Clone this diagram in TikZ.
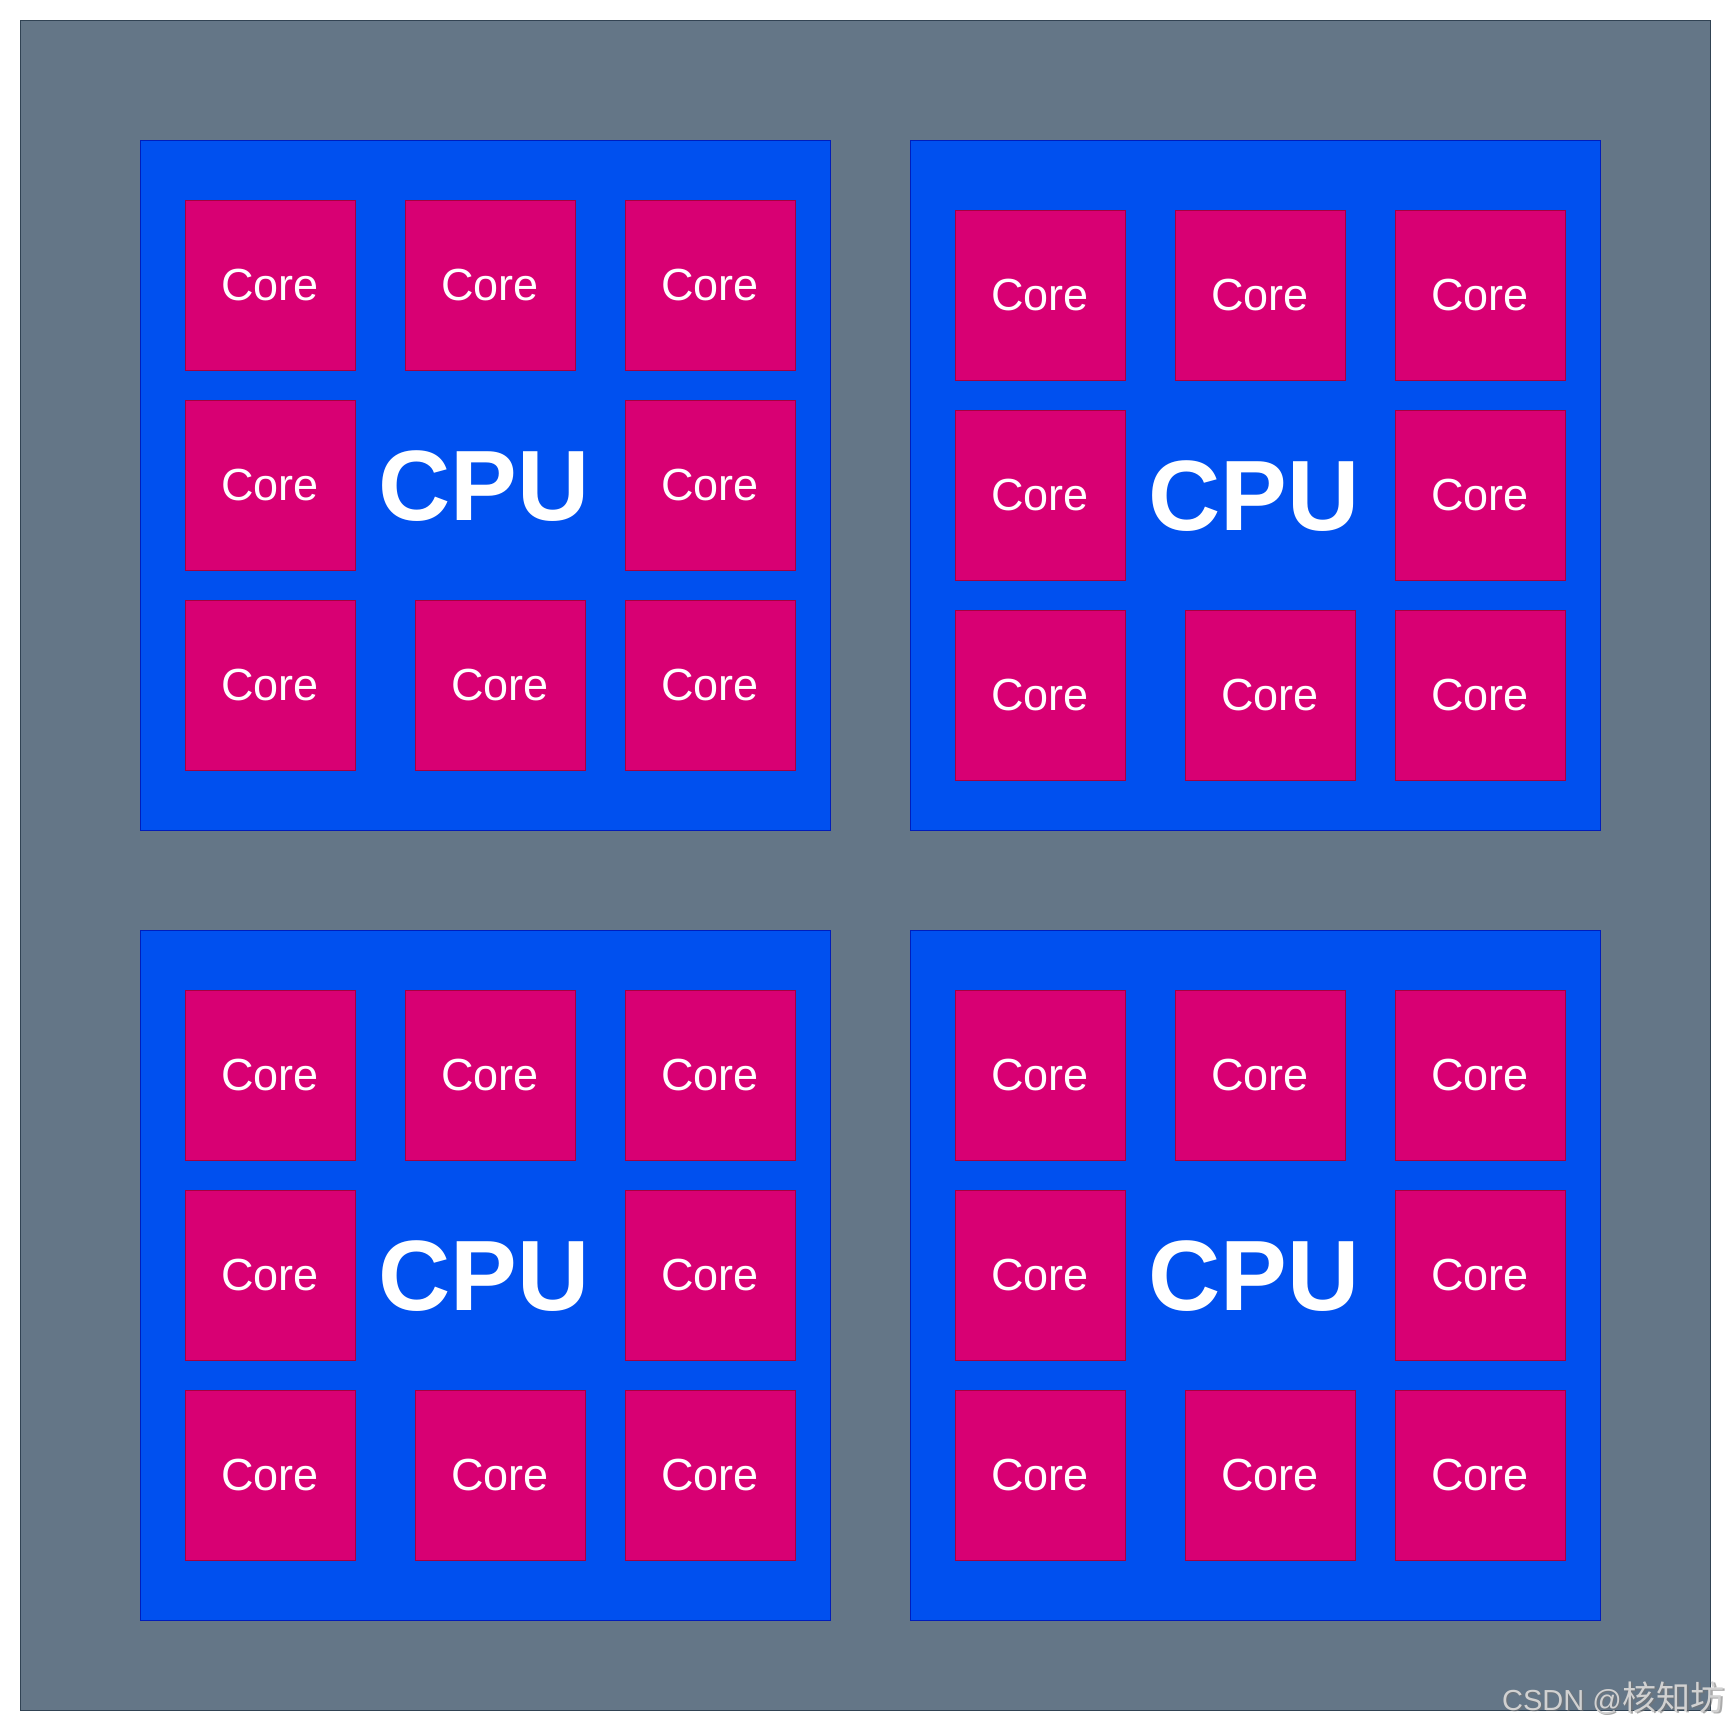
\documentclass[tikz,border=0pt]{standalone}
\usepackage{fontspec}
\setmainfont{Liberation Sans}
\newfontfamily\cjkfont{Noto Sans CJK SC}
\definecolor{bgfill}{HTML}{647687}
\definecolor{bgline}{HTML}{314354}
\definecolor{cpufill}{HTML}{0050EF}
\definecolor{cpuline}{HTML}{001DBC}
\definecolor{corefill}{HTML}{D80073}
\definecolor{coreline}{HTML}{A50040}
\begin{document}
\begin{tikzpicture}[x=1pt,y=-1pt,
  board/.style={fill=bgfill,draw=bgline,line width=1pt},
  cpubox/.style={fill=cpufill,draw=cpuline,line width=1pt},
  corebox/.style={fill=corefill,draw=coreline,line width=1pt,minimum width=170pt,minimum height=170pt,inner sep=0pt,text=white,font=\fontsize{45}{54}\selectfont},
  cpulabel/.style={inner sep=0pt,text=white,font=\fontsize{100}{120}\selectfont\bfseries}]
\useasboundingbox (0,0) rectangle (1732,1732);
\fill[white] (0,0) rectangle (1732,1732);
\draw[board] (20,20) rectangle (1710,1710);
\foreach \ox/\oy/\dy/\n in {140/140/0/a,910/140/10/b,140/930/0/c,910/930/0/d}{
  \draw[cpubox] (\ox,\oy) rectangle ++(690,690);
  \node[cpulabel] (cpu-\n) at (\ox+344,\oy+346+\dy) {CPU};
  \node[corebox] (core-\n-1) at (\ox+130,\oy+145+\dy) {Core};
  \node[corebox] (core-\n-2) at (\ox+350,\oy+145+\dy) {Core};
  \node[corebox] (core-\n-3) at (\ox+570,\oy+145+\dy) {Core};
  \node[corebox] (core-\n-4) at (\ox+130,\oy+345+\dy) {Core};
  \node[corebox] (core-\n-5) at (\ox+570,\oy+345+\dy) {Core};
  \node[corebox] (core-\n-6) at (\ox+130,\oy+545+\dy) {Core};
  \node[corebox] (core-\n-7) at (\ox+360,\oy+545+\dy) {Core};
  \node[corebox] (core-\n-8) at (\ox+570,\oy+545+\dy) {Core};
}
\node[anchor=base west,inner sep=0pt,text=black!55,opacity=0.6] (wmshadow) at (1503.5,1711.5)
  {\fontsize{29}{32}\selectfont CSDN @\hspace{1pt}{\cjkfont\fontsize{34}{36}\selectfont 核知坊}};
\node[anchor=base west,inner sep=0pt,text=black!18] (wm) at (1502,1710)
  {\fontsize{29}{32}\selectfont CSDN @\hspace{1pt}{\cjkfont\fontsize{34}{36}\selectfont 核知坊}};
\end{tikzpicture}
\end{document}
